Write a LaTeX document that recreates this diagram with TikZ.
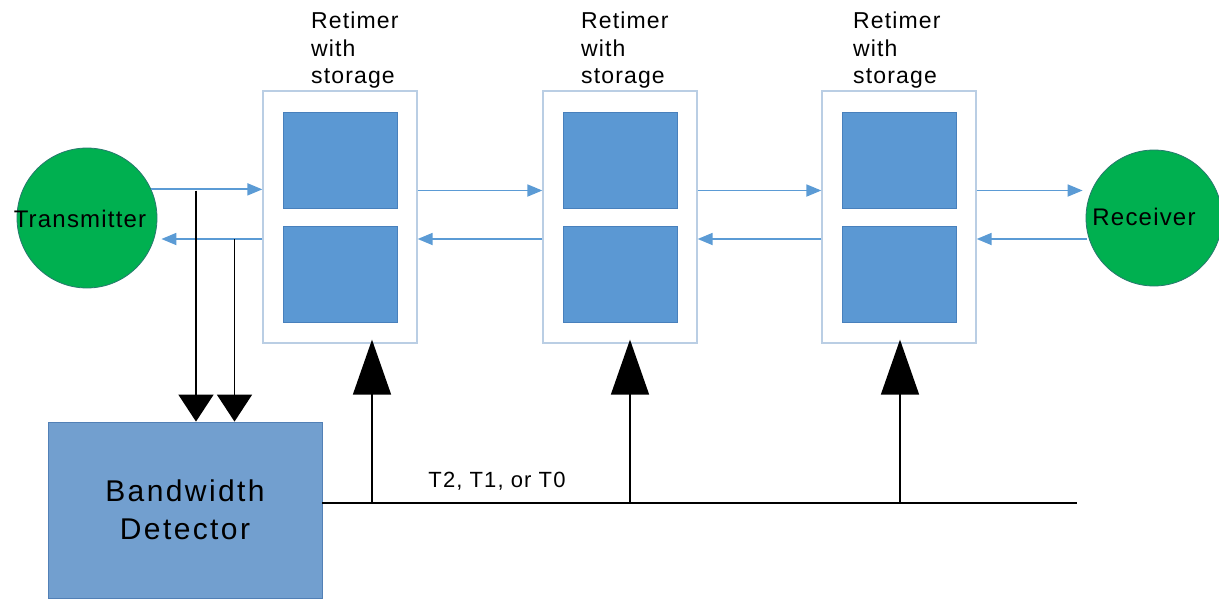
\documentclass[tikz,border=0pt]{standalone}
\usepackage{fontspec}
\setmainfont{Liberation Sans}
\usetikzlibrary{arrows.meta}

\definecolor{nodegreen}{RGB}{0,176,80}
\definecolor{nodeedge}{RGB}{40,120,110}
\definecolor{linkblue}{RGB}{91,155,213}
\definecolor{cellblue}{RGB}{91,152,211}
\definecolor{celledge}{RGB}{72,128,188}
\definecolor{framegray}{RGB}{186,206,228}
\definecolor{detfill}{RGB}{114,159,207}
\definecolor{detedge}{RGB}{82,128,182}

\begin{document}
\begin{tikzpicture}[x=1pt,y=-1pt,
  endpoint/.style={circle,fill=nodegreen,draw=nodeedge,line width=0.8pt,
    minimum size=#1,inner sep=0pt},
  endtext/.style={inner sep=0pt,font=\fontsize{24}{28}\selectfont\addfontfeature{LetterSpace=5}},
  frame/.style={rectangle,draw=framegray,line width=1.3pt,fill=white,
    minimum width=154pt,minimum height=252pt,inner sep=0pt},
  cell/.style={rectangle,fill=cellblue,draw=celledge,line width=0.6pt,
    minimum width=114pt,minimum height=96pt,inner sep=0pt},
  caption/.style={anchor=north west,align=left,inner sep=0pt,
    font=\fontsize{23}{27.5}\selectfont\addfontfeature{LetterSpace=5}},
  detector/.style={rectangle,fill=detfill,draw=detedge,line width=0.8pt,
    minimum width=274pt,minimum height=176pt,align=center,inner sep=0pt,
    font=\fontsize{30}{38}\selectfont\addfontfeature{LetterSpace=8}},
  link/.style={draw=linkblue,line width=1.8pt,-{Triangle[width=12pt,length=15pt]}},
  sense/.style={draw=black,line width=1.6pt,-{Triangle[width=35pt,length=27pt]}},
  ctrl/.style={draw=black,line width=1.6pt,-{Triangle[width=38pt,length=55pt]}},
  bus/.style={draw=black,line width=1.6pt}
]
\useasboundingbox (0,0) rectangle (1219,600);

% end stations
\node[endpoint=140pt] (tx) at (87,218) {};
\node[endtext] (txlabel) at (80,219) {Transmitter};
\node[endpoint=136pt] (rx) at (1154,218) {};
\node[endtext] (rxlabel) at (1144,217) {Receiver};

% retimers, each with two storage cells
\foreach \i/\x in {1/340,2/620,3/899}{
  \node[frame] (r\i) at (\x,217) {};
  \node[cell] (r\i up) at (\x,160) {};
  \node[cell] (r\i dn) at (\x,274.5) {};
}
\node[caption] (c1) at (311,12) {Retimer\\with\\storage};
\node[caption] (c2) at (581,12) {Retimer\\with\\storage};
\node[caption] (c3) at (853,12) {Retimer\\with\\storage};

% forward (upper) and return (lower) links
\coordinate (fwd) at (0,190.5);
\coordinate (ret) at (0,239);
\draw[link] (tx.24) -- (tx.24 -| r1.west);
\draw[link] (r1.east |- fwd) -- (r2.west |- fwd);
\draw[link] (r2.east |- fwd) -- (r3.west |- fwd);
\draw[link] (r3.east |- fwd) -- ([xshift=-3pt]rx.west |- fwd);
\draw[link] (r1.west |- ret) -- ([xshift=4pt]tx.east |- ret);
\draw[link] (r2.west |- ret) -- (r1.east |- ret);
\draw[link] (r3.west |- ret) -- (r2.east |- ret);
\draw[link] ([xshift=1pt]rx.west |- ret) -- (r3.east |- ret);

% bandwidth detector and its taps on both links
\node[detector] (det) at (185,510) {Bandwidth\\Detector};
\coordinate (tapA) at (196,190.5);
\coordinate (tapB) at (234.5,239);
\draw[sense] (tapA) -- (tapA |- det.north);
\draw[sense] (tapB) -- (tapB |- det.north);

% control bus to the retimers
\coordinate (busEnd) at (1077,503);
\draw[bus] (det.east |- busEnd) -- (busEnd);
\foreach \i/\x in {1/372,2/630,3/900}{
  \coordinate (j\i) at (\x,503);
  \draw[ctrl] (j\i) -- ([yshift=4pt]j\i |- r\i.south);
}
\node[anchor=base,inner sep=0pt,font=\fontsize{22}{26}\selectfont\addfontfeature{LetterSpace=5}]
  (buslabel) at (497,487) {T2, T1, or T0};
\end{tikzpicture}
\end{document}
